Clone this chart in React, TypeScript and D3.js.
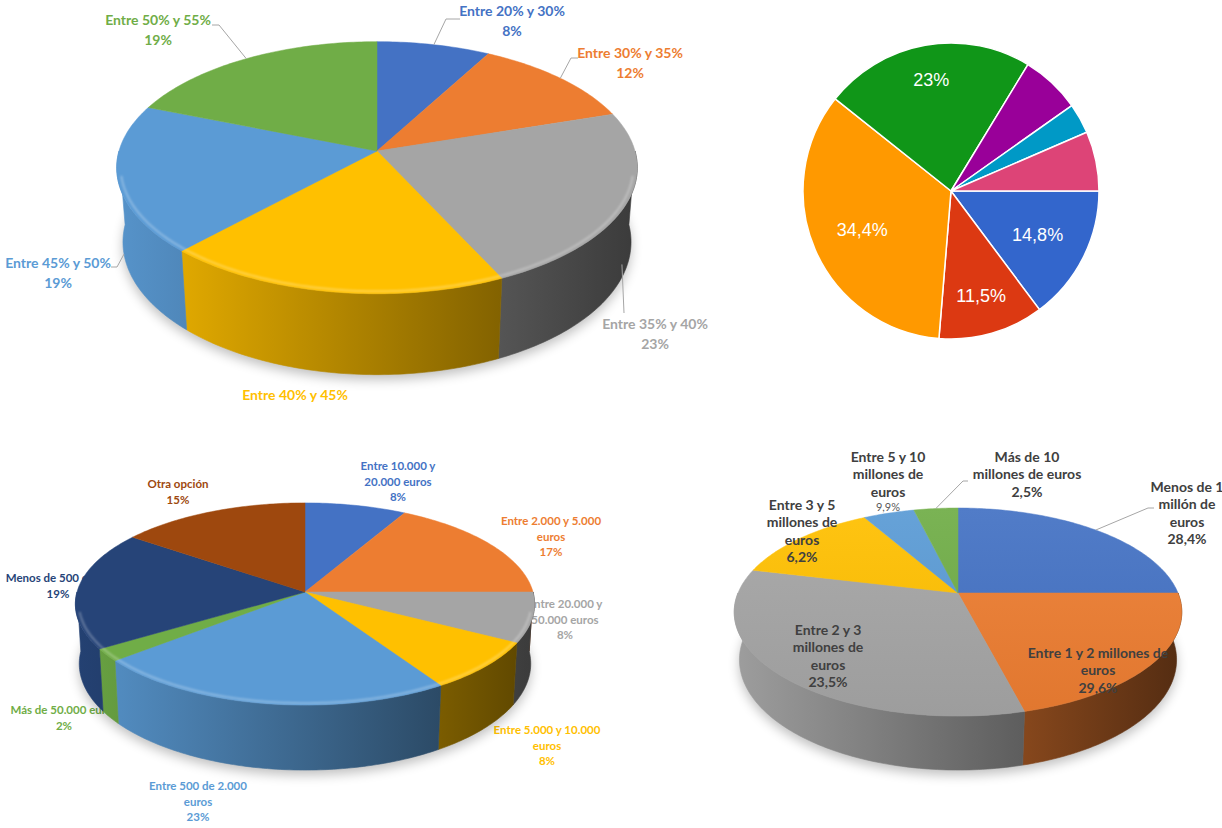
import React, { useEffect, useRef } from 'react';
import * as d3 from 'd3';

const W = 1222;
const H = 828;

// --- top left: tramos de porcentaje ---
const rateCats = ['Entre 20% y 30%', 'Entre 30% y 35%', 'Entre 35% y 40%', 'Entre 40% y 45%', 'Entre 45% y 50%', 'Entre 50% y 55%'];
const rateVals = [8, 12, 23, 19, 19, 19];
const rateShowPct = [true, true, true, false, true, true];

// --- top right: google forms style pie ---
const formVals = [14.8, 11.5, 34.4, 23, 6.5, 3.3, 6.5];

// --- bottom left: importes ---
const amountCats = [
  ['Entre 10.000 y', '20.000 euros'],
  ['Entre 2.000 y 5.000', 'euros'],
  ['Entre 20.000 y', '50.000 euros'],
  ['Entre 5.000 y 10.000', 'euros'],
  ['Entre 500 de 2.000', 'euros'],
  ['Más de 50.000 euros'],
  ['Menos de 500 euros'],
  ['Otra opción'],
];
const amountVals = [8, 17, 8, 8, 23, 2, 19, 15];

// --- bottom right: facturación ---
const revCats = [
  ['Menos de 1', 'millón de', 'euros'],
  ['Entre 1 y 2 millones de', 'euros'],
  ['Entre 2 y 3', 'millones de', 'euros'],
  ['Entre 3 y 5', 'millones de', 'euros'],
  ['Entre 5 y 10', 'millones de', 'euros'],
  ['Más de 10', 'millones de euros'],
];
const revShare = [25, 21, 32.8, 13, 4.4, 3.8]; // slice sizes as drawn in the picture
const revPct = [28.4, 29.6, 23.5, 6.2, 9.9, 2.5]; // percentages printed on the labels

const office = ['#4472C4', '#ED7D31', '#A5A5A5', '#FFC000', '#5B9BD5', '#70AD47'];
const amountColors = ['#4472C4', '#ED7D31', '#A5A5A5', '#FFC000', '#5B9BD5', '#70AD47', '#264478', '#9E480E'];
const formColors = ['#3366CC', '#DC3912', '#FF9900', '#109618', '#990099', '#0099C6', '#DD4477'];

// layout
type View = { cx: number; cy: number; k: number; elev: number; persp: number; thick: number };
const viewTL: View = { cx: 377, cy: 151, k: 258, elev: 0.5006, persp: 0.151, thick: 0.334 };
const viewBL: View = { cx: 305, cy: 592, k: 228, elev: 0.4524, persp: 0.132, thick: 0.294 };
const viewBR: View = { cx: 958, cy: 593, k: 220, elev: 0.4747, persp: 0.206, thick: 0.246 };

const rateLabelAt = [[512, 11], [630, 53], [655, 324], [295, 395], [58, 263], [158, 20]];
const rateLeaders: ({ level: number; to: number[][] } | null)[] = [
  { level: 0, to: [[446, 19], [460, 19]] },
  { level: 0, to: [[571, 58], [578, 58]] },
  { level: 0.8, to: [[624, 313]] },
  null,
  { level: 1, to: [[117, 267], [111, 267]] },
  { level: 0, to: [[219, 25], [212, 25]] },
];
const amountLabelAt = [[398, 466], [551, 521], [565, 604], [547, 730], [198, 786], [64, 710], [58, 578], [178, 484]];
const revLabelAt = [[1187, 487], [1098, 653], [828, 630], [802, 505], [888, 457], [1027, 457]];
const revPctPlain = [false, false, false, false, true, false];
const revLeaders: ({ level: number; to: number[][] } | null)[] = [
  { level: 0, to: [[1148, 508], [1154, 508]] },
  null, null, null, null,
  { level: 0, to: [[963, 481], [968, 481]] },
];

const font = 'Lato, "Open Sans", "DejaVu Sans", sans-serif';
const es = (v: number) => String(v).replace('.', ',') + '%';
const scaleColor = (c: string, f: number) => { const r = d3.rgb(c); return d3.rgb(r.r * f, r.g * f, r.b * f).formatHex(); };
const lighten = (c: string, t: number) => d3.interpolateRgb(c, '#ffffff')(t);

function projector(v: View) {
  const se = Math.sin(v.elev), ce = Math.cos(v.elev);
  return (a: number, level: number, rr = 1): [number, number] => {
    const X = rr * Math.sin(a), Z = -rr * Math.cos(a), Y = -v.thick * level;
    const d = 1 - v.persp * (Z * ce + Y * se);
    return [v.cx + (v.k * X) / d, v.cy + (v.k * (Z * se - Y * ce)) / d];
  };
}

function rimPts(P: ReturnType<typeof projector>, a0: number, a1: number, level: number, rr = 1) {
  const n = Math.max(2, Math.ceil(Math.abs(a1 - a0) / (Math.PI / 180)));
  return d3.range(n + 1).map(i => P(a0 + ((a1 - a0) * i) / n, level, rr));
}

function labelBlock(g: any, lines: string[], x: number, y: number, gap: number, color: string, size: number, weight = 700) {
  const t = g.append('text').attr('text-anchor', 'middle').attr('fill', color)
    .attr('font-family', font).attr('font-size', size).attr('font-weight', weight);
  lines.forEach((s, i) => t.append('tspan').attr('x', x).attr('y', y + i * gap).attr('dy', '0.35em').text(s));
}

function pie3d(svg: any, id: string, view: View, values: number[], colors: string[], topGradient: boolean, bevel: boolean) {
  const P = projector(view);
  const arcs = d3.pie<number>().sort(null)(values);
  const defs = svg.append('defs');
  const line = d3.line();
  const g = svg.append('g');

  const f = defs.append('filter').attr('id', `${id}-blur`).attr('x', '-20%').attr('y', '-30%').attr('width', '140%').attr('height', '160%');
  f.append('feGaussianBlur').attr('stdDeviation', 6);
  g.append('path').attr('d', line(rimPts(P, 0, 2 * Math.PI, 1)) + 'Z')
    .attr('fill', '#000').attr('opacity', 0.25).attr('filter', `url(#${id}-blur)`).attr('transform', 'translate(0,5)');

  // outer walls, front half only
  arcs.forEach((a, i) => {
    const s = Math.max(a.startAngle, Math.PI / 2), e = Math.min(a.endAngle, 1.5 * Math.PI);
    if (e <= s) return;
    const gid = `${id}-side-${i}`;
    const lg = defs.append('linearGradient').attr('id', gid).attr('gradientUnits', 'userSpaceOnUse')
      .attr('x1', view.cx - view.k).attr('x2', view.cx + view.k).attr('y1', 0).attr('y2', 0);
    lg.append('stop').attr('offset', 0).attr('stop-color', scaleColor(colors[i], 0.95));
    lg.append('stop').attr('offset', 1).attr('stop-color', scaleColor(colors[i], 0.36));
    const pts = [...rimPts(P, s, e, 0), ...rimPts(P, e, s, 1)];
    g.append('path').attr('d', line(pts) + 'Z').attr('fill', `url(#${gid})`).attr('stroke', `url(#${gid})`).attr('stroke-width', 0.6);
  });

  // top faces
  const yTop = P(0, 0)[1], yBot = P(Math.PI, 0)[1];
  arcs.forEach((a, i) => {
    let fill = colors[i];
    if (topGradient) {
      const gid = `${id}-top-${i}`;
      const lg = defs.append('linearGradient').attr('id', gid).attr('gradientUnits', 'userSpaceOnUse')
        .attr('x1', 0).attr('x2', 0).attr('y1', yTop).attr('y2', yBot);
      lg.append('stop').attr('offset', 0).attr('stop-color', lighten(colors[i], 0.07));
      lg.append('stop').attr('offset', 1).attr('stop-color', scaleColor(colors[i], 0.95));
      fill = `url(#${gid})`;
    }
    const pts = [[view.cx, view.cy] as [number, number], ...rimPts(P, a.startAngle, a.endAngle, 0)];
    g.append('path').attr('d', line(pts) + 'Z').attr('fill', fill).attr('stroke', fill).attr('stroke-width', 0.5);
  });

  if (bevel) {
    const bf = defs.append('filter').attr('id', `${id}-soft`);
    bf.append('feGaussianBlur').attr('stdDeviation', 1.2);
    g.append('path').attr('d', line(rimPts(P, Math.PI / 2 + 0.2, 1.5 * Math.PI - 0.2, 0, 0.985)))
      .attr('fill', 'none').attr('stroke', '#fff').attr('stroke-opacity', 0.3).attr('stroke-width', 2)
      .attr('filter', `url(#${id}-soft)`);
  }
  return { P, arcs };
}

function leader(svg: any, P: ReturnType<typeof projector>, a: d3.PieArcDatum<number>, spec: { level: number; to: number[][] } | null) {
  if (!spec) return;
  const mid = (a.startAngle + a.endAngle) / 2;
  const pts = [P(mid, spec.level), ...spec.to.map(p => [p[0], p[1]] as [number, number])];
  svg.append('path').attr('d', d3.line()(pts)).attr('fill', 'none').attr('stroke', '#A6A6A6').attr('stroke-width', 1);
}

export default function App() {
  const ref = useRef<SVGSVGElement>(null);

  useEffect(() => {
    if (!ref.current) return;
    const svg = d3.select(ref.current);
    svg.selectAll('*').remove();

    // top left
    const tl = pie3d(svg, 'tl', viewTL, rateVals, office, false, true);
    tl.arcs.forEach((a, i) => leader(svg, tl.P, a, rateLeaders[i]));
    rateCats.forEach((c, i) => {
      const lines = rateShowPct[i] ? [c, es(rateVals[i])] : [c];
      labelBlock(svg, lines, rateLabelAt[i][0], rateLabelAt[i][1], 20.5, office[i], 14);
    });

    // top right
    const fr = 148;
    const fArcs = d3.pie<number>().sort(null).startAngle(Math.PI / 2).endAngle(Math.PI / 2 + 2 * Math.PI)(formVals);
    const arc = d3.arc<d3.PieArcDatum<number>>().innerRadius(0).outerRadius(fr);
    const gf = svg.append('g').attr('transform', 'translate(951,191)');
    gf.selectAll('path').data(fArcs).join('path').attr('d', arc as any)
      .attr('fill', (_d, i) => formColors[i]).attr('stroke', '#fff').attr('stroke-width', 1.5);
    fArcs.forEach(d => {
      if (d.value < 10) return;
      const txt = es(d.value);
      const w = Array.from(txt).reduce((s, ch) => s + (ch === ',' ? 5 : ch === '%' ? 16 : 10), 0);
      const mid = (d.startAngle + d.endAngle) / 2;
      const rho = fr * 0.83 - (w / 2) * Math.abs(Math.sin(mid)) - 7 * Math.abs(Math.cos(mid));
      gf.append('text').attr('x', rho * Math.sin(mid)).attr('y', -rho * Math.cos(mid)).attr('dy', '0.35em')
        .attr('text-anchor', 'middle').attr('fill', '#fff').attr('font-size', 18)
        .attr('font-family', '"Liberation Sans", Arial, sans-serif').text(txt);
    });

    // bottom left: labels sit behind the pie
    amountCats.forEach((c, i) => {
      labelBlock(svg, [...c, es(amountVals[i])], amountLabelAt[i][0], amountLabelAt[i][1], 15.5, amountColors[i], 11.5);
    });
    pie3d(svg, 'bl', viewBL, amountVals, amountColors, false, true);

    // bottom right
    const br = pie3d(svg, 'br', viewBR, revShare, office, true, false);
    br.arcs.forEach((a, i) => leader(svg, br.P, a, revLeaders[i]));
    revCats.forEach((c, i) => {
      const [x, y] = revLabelAt[i];
      if (revPctPlain[i]) {
        labelBlock(svg, c, x, y, 17.3, '#404040', 14);
        labelBlock(svg, [es(revPct[i])], x, y + c.length * 17.3 - 2, 17, '#595959', 11, 400);
      } else {
        labelBlock(svg, [...c, es(revPct[i])], x, y, 17.3, '#404040', 14);
      }
    });
  }, []);

  return (
    <svg ref={ref} width={W} height={H} viewBox={`0 0 ${W} ${H}`}
      style={{ position: 'absolute', left: 0, top: 0, background: '#fff' }} />
  );
}
